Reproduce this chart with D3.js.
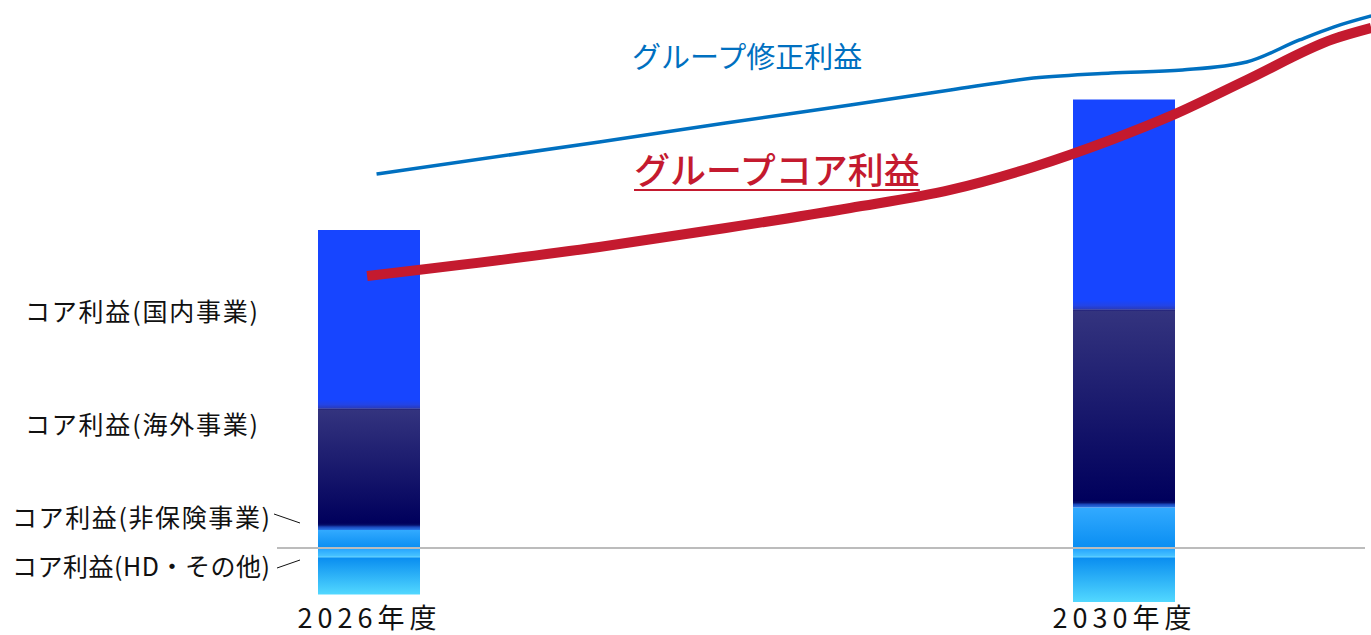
<!DOCTYPE html>
<html lang="ja">
<head>
<meta charset="utf-8">
<script src="https://cdn.jsdelivr.net/npm/d3@7"></script>
<style>
  html, body { margin: 0; padding: 0; background: #fff; }
  svg { display: block; font-family: "Noto Sans CJK JP", "Noto Sans", sans-serif; }
</style>
</head>
<body>
<svg id="chart" width="1371" height="635"></svg>
<script>
// Fiscal years shown as stacked bars
const years = [2026, 2030];
const yearLabels = ["2026年度", "2030年度"];

// Core profit components per year (arbitrary profit units)
const domestic = [119, 140];   // コア利益(国内事業)
const overseas = [81, 132];    // コア利益(海外事業)
const nonInsurance = [12, 27]; // コア利益(非保険事業)
const hdOther = [-31, -36];    // コア利益(HD・その他)

// Trend lines: [fiscal year position, value]
const adjustedProfit = [
  [2026.04, 249.3], [2027.22, 270.7], [2027.89, 283.3], [2028.55, 295.3],
  [2029.08, 305.3], [2029.52, 313.3], [2029.93, 316.7], [2030.31, 318.7],
  [2030.65, 324.0], [2030.93, 338.7], [2031.11, 347.3], [2031.31, 354.7]
];
const coreProfit = [
  [2025.99, 181.3], [2027.22, 200.7], [2027.89, 213.3], [2028.55, 226.7],
  [2029.08, 238.7], [2029.52, 254.0], [2029.93, 272.0], [2030.26, 288.7],
  [2030.65, 312.0], [2031.11, 339.3], [2031.31, 346.7]
];

const segmentLabels = [
  { key: "domestic", text: "コア利益(国内事業)" },
  { key: "overseas", text: "コア利益(海外事業)" },
  { key: "nonInsurance", text: "コア利益(非保険事業)" },
  { key: "hdOther", text: "コア利益(HD・その他)" }
];

const svg = d3.select("#chart");
const defs = svg.append("defs");

const x = d3.scaleLinear().domain([2026, 2030]).range([369, 1124]);
const y = d3.scaleLinear().domain([0, 200]).range([548, 248]);
const barWidth = 102;

const rows = years.map((yr, i) => ({
  year: yr,
  hdOther: hdOther[i],
  nonInsurance: nonInsurance[i],
  overseas: overseas[i],
  domestic: domestic[i]
}));

const keys = ["hdOther", "nonInsurance", "overseas", "domestic"];
const stacked = d3.stack().keys(keys).offset(d3.stackOffsetDiverging)(rows);

// vertical gradient with stops expressed in pixels from the segment top
// (negative values count from the segment bottom)
function gradient(id, h, stops) {
  const g = defs.append("linearGradient")
    .attr("id", id).attr("x1", 0).attr("y1", 0).attr("x2", 0).attr("y2", 1);
  stops.forEach(([o, c]) => {
    const off = o < 0 ? 1 + o / h : o / h;
    g.append("stop").attr("offset", Math.max(0, Math.min(1, off))).attr("stop-color", c);
  });
  return `url(#${id})`;
}

function fillFor(key, h, id) {
  if (key === "domestic") {
    return gradient(id, h, [[0, "#1745ff"], [-9, "#1745ff"], [-4, "#2344e6"], [-0.01, "#2a3ab8"]]);
  }
  if (key === "overseas") {
    return gradient(id, h, [[0, "#34347f"], [-7, "#00005c"], [-5, "#06106a"], [-3, "#1a48bc"], [-0.01, "#2a78e8"]]);
  }
  if (key === "nonInsurance") {
    return gradient(id, h, [[0, "#32aaff"], [-0.01, "#0a8ef2"]]);
  }
  return gradient(id, h, [[0, "#22a2ff"], [8, "#46c2ff"], [9, "#6cd4ff"], [10, "#0a8ef0"], [-0.01, "#52d8ff"]]);
}

const barsG = svg.append("g");
stacked.forEach(layer => {
  layer.forEach((d, i) => {
    const top = y(Math.max(d[0], d[1]));
    const bottom = y(Math.min(d[0], d[1]));
    const h = bottom - top;
    const id = `g-${layer.key}-${i}`;
    barsG.append("rect")
      .attr("x", x(d.data.year) - barWidth / 2)
      .attr("y", top)
      .attr("width", barWidth)
      .attr("height", h)
      .attr("fill", fillFor(layer.key, h, id));
    if (layer.key === "overseas") {
      barsG.append("line")
        .attr("x1", x(d.data.year) - barWidth / 2)
        .attr("x2", x(d.data.year) + barWidth / 2)
        .attr("y1", top + 0.5).attr("y2", top + 0.5)
        .attr("stroke", "#1c1c7a").attr("stroke-width", 1.2);
    }
  });
});

// zero line
svg.append("line")
  .attr("x1", 277).attr("x2", 1365)
  .attr("y1", y(0)).attr("y2", y(0))
  .attr("stroke", "#bcbcbc").attr("stroke-width", 2);

// trend lines
const line = d3.line().x(d => x(d[0])).y(d => y(d[1])).curve(d3.curveMonotoneX);

svg.append("path")
  .datum(adjustedProfit)
  .attr("d", line)
  .attr("fill", "none")
  .attr("stroke", "#0070c0")
  .attr("stroke-width", 3.5);

svg.append("path")
  .datum(coreProfit)
  .attr("d", line)
  .attr("fill", "none")
  .attr("stroke", "#c41a2f")
  .attr("stroke-width", 10);

// line labels
svg.append("text")
  .attr("x", 632).attr("y", 68)
  .attr("font-size", 29)
  .attr("fill", "#0070c0")
  .text("グループ修正利益");

const coreLabel = svg.append("text")
  .attr("x", 634).attr("y", 184)
  .attr("font-size", 36)
  .attr("font-weight", 500)
  .attr("fill", "#c41a2f")
  .text("グループコア利益");
const bb = coreLabel.node().getBBox();
svg.append("line")
  .attr("x1", bb.x).attr("x2", bb.x + bb.width)
  .attr("y1", 190).attr("y2", 190)
  .attr("stroke", "#c41a2f").attr("stroke-width", 2);

// segment labels on the left
const labelPos = {
  domestic: { x: 25, y: 310, w: 233 },
  overseas: { x: 25, y: 423, w: 233 },
  nonInsurance: { x: 12, y: 516, w: 258 },
  hdOther: { x: 12, y: 565, w: 258 }
};
segmentLabels.forEach(l => {
  const p = labelPos[l.key];
  svg.append("text")
    .attr("x", p.x)
    .attr("y", p.y)
    .attr("dominant-baseline", "central")
    .attr("font-size", 25)
    .attr("textLength", p.w)
    .attr("lengthAdjust", "spacing")
    .attr("fill", "#111")
    .text(l.text);
});

// leader lines for the two small segments
svg.append("line").attr("x1", 274).attr("y1", 514).attr("x2", 300).attr("y2", 523)
  .attr("stroke", "#111").attr("stroke-width", 1);
svg.append("line").attr("x1", 277).attr("y1", 568).attr("x2", 300).attr("y2", 560)
  .attr("stroke", "#111").attr("stroke-width", 1);

// year axis
const xAxis = d3.axisBottom(x)
  .tickValues(years)
  .tickSize(0)
  .tickFormat((d, i) => yearLabels[i]);

const axisG = svg.append("g").attr("transform", "translate(0,628)").call(xAxis);
axisG.select(".domain").remove();
axisG.selectAll("text")
  .attr("y", 0).attr("dy", null)
  .attr("font-family", "\"Noto Sans CJK JP\", sans-serif")
  .attr("font-size", 27)
  .attr("letter-spacing", "5px")
  .attr("fill", "#111");
</script>
</body>
</html>
